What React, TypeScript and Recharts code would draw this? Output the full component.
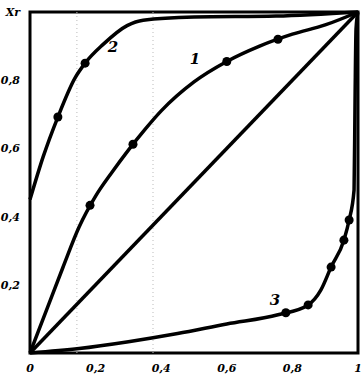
import { ComposedChart, Line, Scatter, XAxis, YAxis, ReferenceArea, ReferenceDot, ReferenceLine } from 'recharts';

document.body.style.margin = '0';

const xTicks = [0, 0.2, 0.4, 0.6, 0.8, 1];
const yTicks = [0.2, 0.4, 0.6, 0.8, 1];
const xTickLabels = ['0', '0,2', '0,4', '0,6', '0,8', '1'];
const yTickLabels = ['0,2', '0,4', '0,6', '0,8', 'Xr'];

const curve1 = [
  { x: 0, y: 0 },
  { x: 0.05, y: 0.125 },
  { x: 0.1, y: 0.25 },
  { x: 0.15, y: 0.37 },
  { x: 0.2, y: 0.46 },
  { x: 0.25, y: 0.53 },
  { x: 0.3, y: 0.595 },
  { x: 0.35, y: 0.655 },
  { x: 0.4, y: 0.71 },
  { x: 0.5, y: 0.795 },
  { x: 0.6, y: 0.855 },
  { x: 0.7, y: 0.9 },
  { x: 0.8, y: 0.935 },
  { x: 0.9, y: 0.962 },
  { x: 1, y: 1 },
];

const curve2 = [
  { x: 0, y: 0.45 },
  { x: 0.04, y: 0.575 },
  { x: 0.085, y: 0.692 },
  { x: 0.137, y: 0.806 },
  { x: 0.168, y: 0.85 },
  { x: 0.223, y: 0.905 },
  { x: 0.296, y: 0.96 },
  { x: 0.345, y: 0.976 },
  { x: 0.5, y: 0.985 },
  { x: 0.75, y: 0.988 },
  { x: 1, y: 1 },
];

const curve3 = [
  { x: 0, y: 0 },
  { x: 0.15, y: 0.013 },
  { x: 0.3, y: 0.033 },
  { x: 0.45, y: 0.057 },
  { x: 0.6, y: 0.085 },
  { x: 0.756, y: 0.112 },
  { x: 0.848, y: 0.141 },
  { x: 0.887, y: 0.185 },
  { x: 0.918, y: 0.252 },
  { x: 0.957, y: 0.331 },
  { x: 0.973, y: 0.39 },
  { x: 0.988, y: 0.478 },
  { x: 0.991, y: 0.742 },
  { x: 0.994, y: 0.95 },
  { x: 1, y: 1 },
];

const diagonal = [
  { x: 0, y: 0 },
  { x: 1, y: 1 },
];

const markers = [
  { x: 0.183, y: 0.433 },
  { x: 0.314, y: 0.612 },
  { x: 0.6, y: 0.855 },
  { x: 0.756, y: 0.92 },
  { x: 0.168, y: 0.85 },
  { x: 0.085, y: 0.692 },
  { x: 0.78, y: 0.118 },
  { x: 0.848, y: 0.141 },
  { x: 0.918, y: 0.252 },
  { x: 0.957, y: 0.331 },
  { x: 0.973, y: 0.39 },
];

const curveLabels = [
  { x: 0.503, y: 0.862, text: '1' },
  { x: 0.253, y: 0.897, text: '2' },
  { x: 0.747, y: 0.155, text: '3' },
];

const FONT = "'DejaVu Serif', serif";
const tickStyle = { fontSize: 11, fontFamily: FONT, fontStyle: 'italic', fontWeight: 'bold', fill: '#000' };

export default function App() {
  const lineProps = {
    type: 'monotone' as const,
    dataKey: 'y',
    stroke: '#000',
    strokeWidth: 3.5,
    dot: false,
    isAnimationActive: false,
  };
  return (
    <div style={{ width: 362, height: 379, background: '#fff' }}>
      <ComposedChart width={362} height={379} margin={{ top: 12, right: 4, bottom: 0, left: 0 }}>
        <XAxis
          type="number"
          dataKey="x"
          domain={[0, 1]}
          ticks={xTicks}
          tickFormatter={(v: number) => xTickLabels[xTicks.indexOf(v)] ?? ''}
          tick={tickStyle}
          tickLine={false}
          tickMargin={5}
          axisLine={false}
          height={26}
        />
        <YAxis
          type="number"
          domain={[0, 1]}
          ticks={yTicks}
          tickFormatter={(v: number) => yTickLabels[yTicks.indexOf(v)] ?? ''}
          tick={tickStyle}
          tickLine={false}
          tickMargin={4}
          axisLine={false}
          width={30}
        />
        <ReferenceLine x={0.143} stroke="#bbb" strokeDasharray="1 3" />
        <ReferenceLine x={0.375} stroke="#bbb" strokeDasharray="1 3" />
        <ReferenceArea x1={0} x2={1} y1={0} y2={1} fill="none" stroke="#000" strokeWidth={3} ifOverflow="visible" />
        <Line {...lineProps} data={diagonal} type="linear" />
        <Line {...lineProps} data={curve1} />
        <Line {...lineProps} data={curve2} />
        <Line {...lineProps} data={curve3} />
        <Scatter data={markers} dataKey="y" fill="#000" shape="circle" isAnimationActive={false} />
        {curveLabels.map((l) => (
          <ReferenceDot
            key={l.text}
            x={l.x}
            y={l.y}
            r={0}
            stroke="none"
            label={{ value: l.text, fontSize: 15, fontFamily: FONT, fontStyle: 'italic', fontWeight: 'bold', fill: '#000' }}
          />
        ))}
      </ComposedChart>
    </div>
  );
}
